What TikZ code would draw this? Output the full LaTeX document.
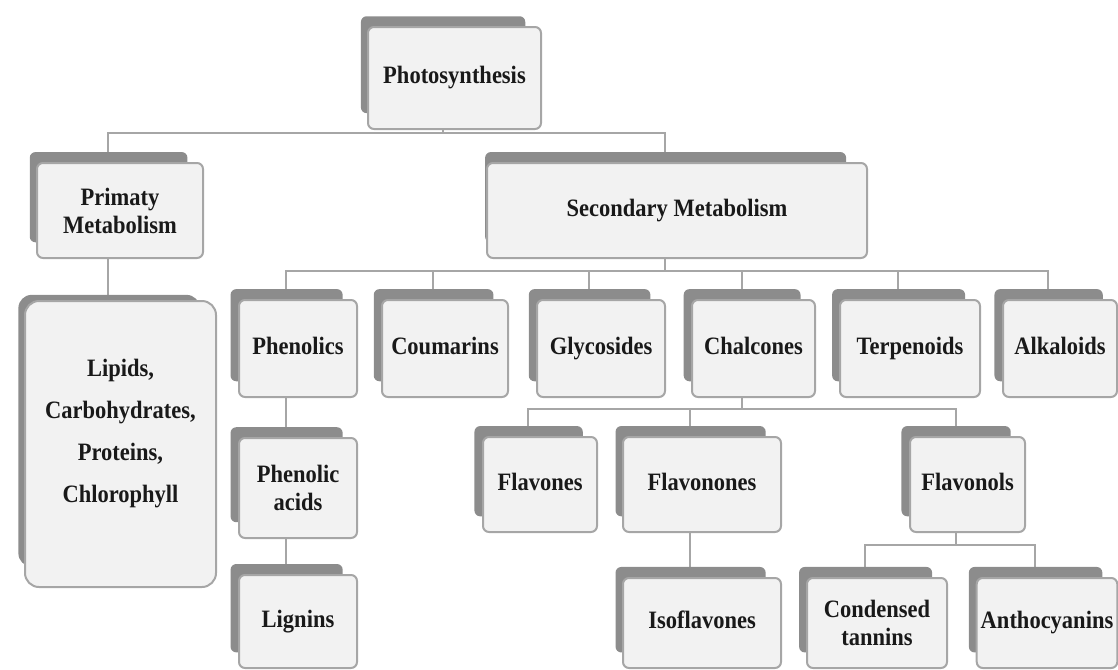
\documentclass[tikz,border=0pt]{standalone}
\usepackage{fontspec}
\setmainfont{Liberation Serif}[FakeStretch=0.9]
\usepackage{tikz}
\usetikzlibrary{calc,shadows,backgrounds}
\newcommand\bx[6][]{\node[box,minimum width=#5*0.5pt,minimum height=#6*0.5pt,#1] (#2) at (#3) {#4}; \coordinate (#2s) at ($(#2.center)+(-12,0)$);}
\newcommand\branch[3]{\draw[wire] (#1s) -- (#1s |- #3) -| (#2s);}

\begin{document}
\begin{tikzpicture}[x=0.5pt,y=-0.5pt]
\tikzstyle{box}=[draw=black!35,line width=1pt,fill=black!5,rounded corners=3pt,align=center,inner sep=2pt,
  text=black!90,font=\bfseries\fontsize{12.5}{14}\selectfont,text height=8.6pt,text depth=2.8pt,
  general shadow={fill=black!45,draw=none,shadow xshift=-6pt,shadow yshift=7pt,shadow scale=0.95}]
\tikzstyle{multi}=[text height=,text depth=]
\tikzstyle{bigbox}=[rounded corners=7pt,font=\bfseries\fontsize{12.5}{21}\selectfont,text height=,text depth=12.7pt]
\tikzstyle{wire}=[draw=black!35,line width=1pt]
\useasboundingbox (0,0) rectangle (1118,669);
\bx{photo}{454.5,78}{Photosynthesis}{173}{102}
\bx[multi]{prim}{120,210.5}{Primaty\\Metabolism}{166}{95}
\bx{sec}{677,210.5}{Secondary Metabolism}{380}{95}
\bx[bigbox]{lip}{120.5,444}{Lipids,\\Carbohydrates,\\Proteins,\\Chlorophyll}{191}{286}
\bx{phen}{298,348.5}{Phenolics}{118}{97}
\bx{coum}{445,348.5}{Coumarins}{126}{97}
\bx{glyc}{601,348.5}{Glycosides}{128}{97}
\bx{chal}{753.5,348.5}{Chalcones}{123}{97}
\bx{terp}{910,348.5}{Terpenoids}{140}{97}
\bx{alk}{1060,348.5}{Alkaloids}{114}{97}
\bx[multi]{pacid}{298,488}{Phenolic\\acids}{118}{100}
\bx{flav}{540,484.5}{Flavones}{114}{95}
\bx{flvn}{702,484.5}{Flavonones}{158}{95}
\bx{flvl}{967.5,484.5}{Flavonols}{115}{95}
\bx{lig}{298,621.5}{Lignins}{118}{93}
\bx{iso}{702,623}{Isoflavones}{158}{90}
\bx[multi]{cond}{877,623}{Condensed\\tannins}{140}{90}
\bx{anth}{1047,623}{Anthocyanins}{140}{90}
\coordinate (b1) at (0,133);
\coordinate (b2) at (0,271);
\coordinate (b3) at (0,409);
\coordinate (b4) at (0,545);
\begin{scope}[on background layer]
\branch{photo}{prim}{b1}
\branch{photo}{sec}{b1}
\branch{prim}{lip}{lips}
\branch{sec}{phen}{b2}
\branch{sec}{coum}{b2}
\branch{sec}{glyc}{b2}
\branch{sec}{chal}{b2}
\branch{sec}{terp}{b2}
\branch{sec}{alk}{b2}
\branch{phen}{pacid}{pacids}
\branch{pacid}{lig}{ligs}
\branch{chal}{flav}{b3}
\branch{chal}{flvn}{b3}
\branch{chal}{flvl}{b3}
\branch{flvn}{iso}{isos}
\branch{flvl}{cond}{b4}
\branch{flvl}{anth}{b4}
\end{scope}
\end{tikzpicture}
\end{document}
